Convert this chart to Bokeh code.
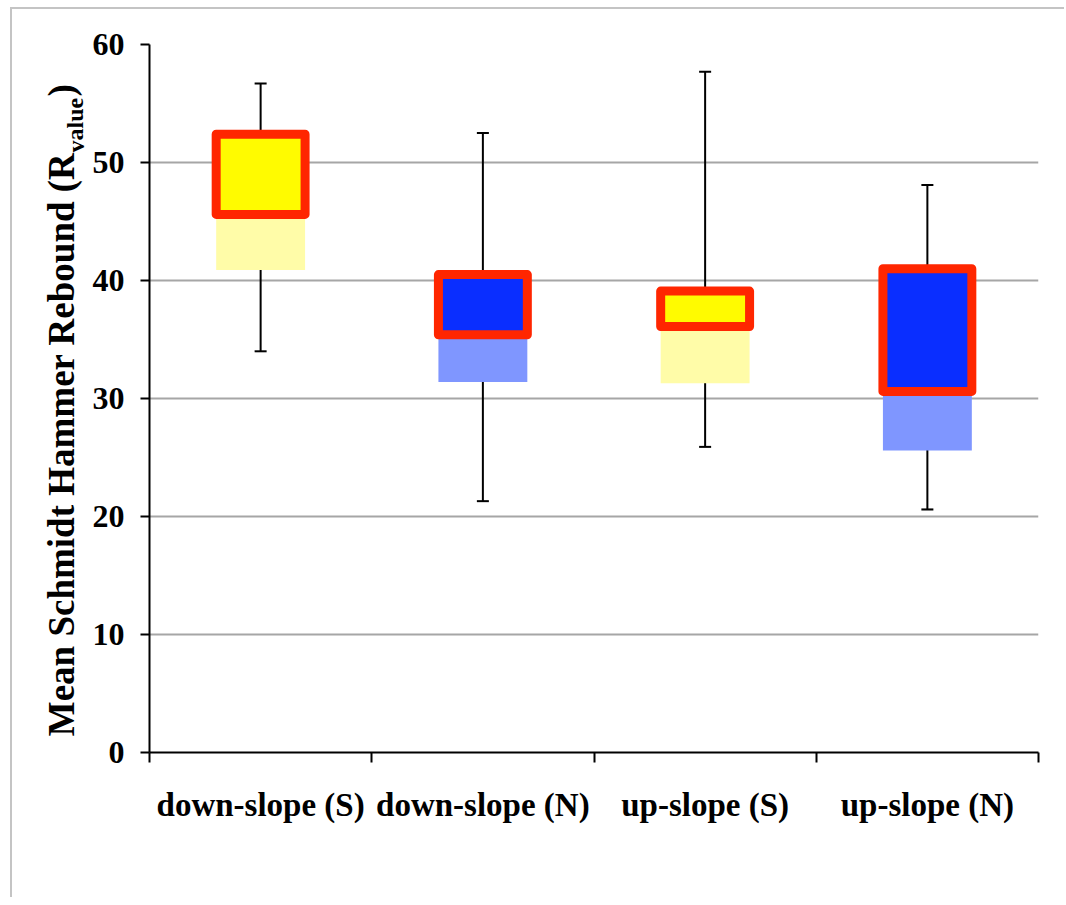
from bokeh.plotting import figure
from bokeh.models import Range1d, FixedTicker, Label, ColumnDataSource
from bokeh.layouts import column, row
from bokeh.embed import file_html
from bokeh.resources import INLINE

categories = ["down-slope (S)", "down-slope (N)", "up-slope (S)", "up-slope (N)"]
whisker_low = [34.0, 21.3, 25.9, 20.6]
q1 = [40.9, 31.4, 31.3, 25.6]
median = [45.6, 35.4, 36.1, 30.6]
q3 = [52.4, 40.5, 39.1, 41.0]
whisker_high = [56.7, 52.5, 57.7, 48.1]
upper_colors = ["#FFFB00", "#0A2EFF", "#FFFB00", "#0A2EFF"]
lower_colors = ["#FFFCA8", "#7F96FF", "#FFFCA8", "#7F96FF"]
y_ticks = [0, 10, 20, 30, 40, 50, 60]
y_label_main = "Mean Schmidt Hammer Rebound (R"
y_label_sub = "value"
y_label_end = ")"

FONT = "Liberation Serif"
BORDER = "#C4C4C4"
BOX_W = 0.4
CAP = 0.027
W = 1066
OX, OY = 12, 9          # page offset of the content (margin + frame line)
LEFT_W = 89             # page x where the main figure starts
FRAME_L, FRAME_T, FRAME_W, FRAME_H = 149, 44, 889, 708
CH = 890
MB_TOP = FRAME_T - OY
MB_BOTTOM = CH - MB_TOP - FRAME_H

# left strip holding the y-axis title (with subscript)
left = figure(width=LEFT_W - OX, height=CH, x_range=Range1d(0, LEFT_W - OX),
              y_range=Range1d(0, FRAME_H), output_backend="svg", toolbar_location=None,
              min_border_left=0, min_border_right=0,
              min_border_top=MB_TOP, min_border_bottom=MB_BOTTOM)
left.title.visible = False
left.axis.visible = False
left.grid.visible = False
left.outline_line_color = None
left.background_fill_color = "white"
left.border_fill_color = "white"
lab_kw = dict(x_units="screen", y_units="screen", angle=1.5708, text_font=FONT,
              text_font_style="bold", text_baseline="middle", text_color="black")
base = FRAME_T + FRAME_H
# baselines at page x 73 (main) and 83 (subscript); anchors are em-box middles
left.add_layout(Label(x=60.5 - OX, y=base - 152, text=y_label_main, text_font_size="37px",
                      text_align="right", **lab_kw))
left.add_layout(Label(x=75 - OX, y=base - 152, text=y_label_sub, text_font_size="24px",
                      text_align="left", **lab_kw))
left.add_layout(Label(x=60.5 - OX, y=base - 96, text=y_label_end, text_font_size="37px",
                      text_align="left", **lab_kw))

# main chart
xc = [i + 0.5 for i in range(len(categories))]
src = ColumnDataSource(dict(
    x=xc, lo=whisker_low, q1=q1, med=median, q3=q3, hi=whisker_high,
    up=upper_colors, low=lower_colors,
    c0=[v - CAP for v in xc], c1=[v + CAP for v in xc],
))

PW = W - LEFT_W
p = figure(width=PW, height=CH, x_range=Range1d(0, 4), y_range=Range1d(0, 60),
           output_backend="svg", toolbar_location=None,
           min_border_left=FRAME_L - LEFT_W, min_border_top=MB_TOP,
           min_border_right=PW - (FRAME_L - LEFT_W) - FRAME_W,
           min_border_bottom=MB_BOTTOM)
p.outline_line_color = None
p.background_fill_color = "white"
p.border_fill_color = "white"

# whiskers
p.segment(x0="x", y0="lo", x1="x", y1="hi", source=src, line_color="black", line_width=2)
p.segment(x0="c0", y0="lo", x1="c1", y1="lo", source=src, line_color="black", line_width=2)
p.segment(x0="c0", y0="hi", x1="c1", y1="hi", source=src, line_color="black", line_width=2)

# boxes
p.vbar(x="x", width=BOX_W, bottom="q1", top="med", source=src, fill_color="low", line_color=None)
p.vbar(x="x", width=BOX_W, bottom="med", top="q3", source=src, fill_color="up",
       line_color="#FF2600", line_width=9, line_join="round")

# axes
xa = p.xaxis[0]
xa.ticker = FixedTicker(ticks=xc, minor_ticks=[0, 1, 2, 3, 4])
xa.major_label_overrides = {v: c for v, c in zip(xc, categories)}
xa.major_tick_out = 0
xa.major_tick_in = 0
xa.minor_tick_out = 10
xa.minor_tick_in = 0
xa.minor_tick_line_width = 2
xa.minor_tick_line_color = "black"
xa.axis_line_width = 2
xa.axis_line_color = "black"
xa.major_label_text_font = FONT
xa.major_label_text_font_style = "bold"
xa.major_label_text_font_size = "33px"
xa.major_label_text_color = "black"
xa.major_label_standoff = 24

ya = p.yaxis[0]
ya.ticker = FixedTicker(ticks=y_ticks, minor_ticks=[])
ya.major_tick_out = 9
ya.major_tick_in = 0
ya.major_tick_line_width = 2
ya.major_tick_line_color = "black"
ya.axis_line_width = 2
ya.axis_line_color = "black"
ya.major_label_text_font = FONT
ya.major_label_text_font_style = "bold"
ya.major_label_text_font_size = "32px"
ya.major_label_text_color = "black"
ya.major_label_standoff = 16

p.xgrid.grid_line_color = None
p.ygrid.grid_line_color = "#A6A6A6"
p.ygrid.grid_line_width = 2

layout = column(row(left, p, spacing=0), spacing=0, margin=(OY, 0, 0, OX),
                styles={"box-shadow": "-2px -2px 0 0 " + BORDER})
open("out.html", "w").write(file_html(layout, INLINE))
